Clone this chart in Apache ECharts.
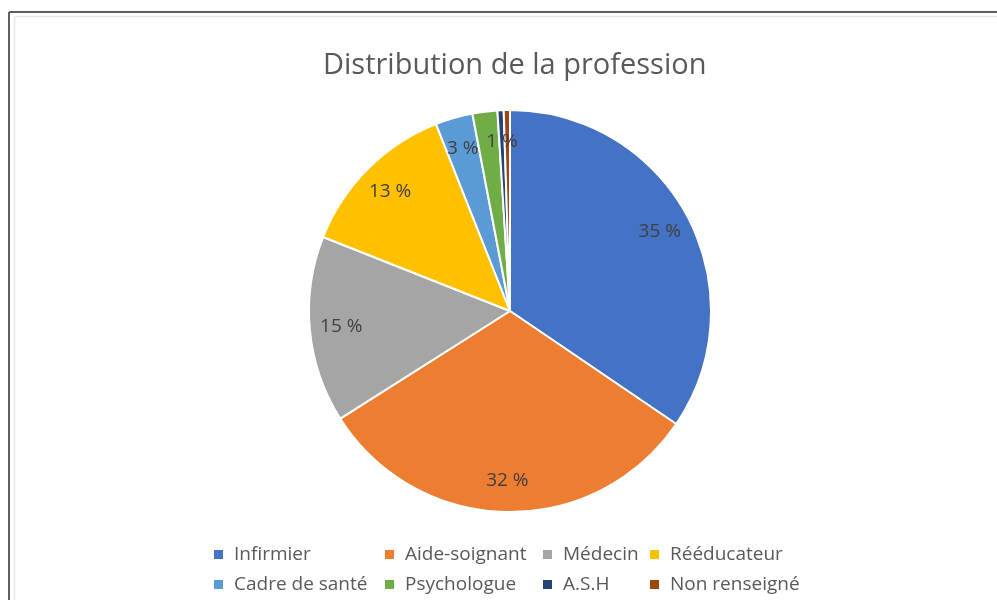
<!DOCTYPE html>
<html>
<head>
<meta charset="utf-8">
<script src="https://cdn.jsdelivr.net/npm/echarts@6/dist/echarts.min.js"></script>
<style>
html,body{margin:0;padding:0;background:#fff;}
#chart{width:997px;height:600px;}
</style>
</head>
<body>
<div id="chart"></div>
<script>
const titleText = 'Distribution de la profession';
const categories = ['Infirmier','Aide-soignant','Médecin','Rééducateur','Cadre de santé','Psychologue','A.S.H','Non renseigné'];
const values = [34.5, 31.5, 15, 13, 3, 2, 0.5, 0.5];
const colors = ['#4472C4','#ED7D31','#A5A5A5','#FFC000','#5B9BD5','#70AD47','#264478','#9E480E'];

const total = values.reduce((a, b) => a + b, 0);
const pieData = categories.map((c, i) => ({ name: c, value: values[i], itemStyle: { color: colors[i] } }));
const labelData = categories.map((c, i) => ({ name: c, value: values[i] }));

const FONT = '"Open Sans", sans-serif';
// legend placement (left x of icon, top y)
const legendPos = [
  [212, 545], [383, 545], [541, 545], [648, 545],
  [212, 575], [383, 575], [541, 575], [648, 575]
];

const chart = echarts.init(document.getElementById('chart'), null, { renderer: 'canvas' });
chart.setOption({
  animation: false,
  backgroundColor: '#fff',
  title: {
    text: titleText, left: 318, top: 46,
    textStyle: { fontFamily: FONT, fontSize: 29, fontWeight: 'normal', color: '#595959' }
  },
  legend: categories.map((c, i) => ({
    data: [c], left: legendPos[i][0], top: legendPos[i][1], padding: 0,
    icon: 'rect', itemWidth: 11, itemHeight: 11, itemGap: 0,
    textStyle: { fontFamily: FONT, fontSize: 19, color: '#595959', padding: [0, 0, 0, 5] }
  })),
  graphic: [
    { type: 'line', shape: { x1: 9, y1: 12, x2: 997, y2: 12 }, style: { stroke: '#5f5f5f', lineWidth: 2 }, silent: true },
    { type: 'line', shape: { x1: 9, y1: 12, x2: 9, y2: 600 }, style: { stroke: '#5f5f5f', lineWidth: 2 }, silent: true },
    { type: 'line', shape: { x1: 14.5, y1: 16.5, x2: 997, y2: 16.5 }, style: { stroke: '#e8e8e8', lineWidth: 1.5 }, silent: true },
    { type: 'line', shape: { x1: 14.5, y1: 16.5, x2: 14.5, y2: 600 }, style: { stroke: '#e8e8e8', lineWidth: 1.5 }, silent: true }
  ],
  series: [
    {
      type: 'pie', center: [510, 311], radius: 201, startAngle: 90, clockwise: true,
      data: pieData, label: { show: false }, labelLine: { show: false },
      itemStyle: { borderColor: '#fff', borderWidth: 2 },
      emphasis: { disabled: true }
    },
    {
      type: 'pie', center: [510, 311], radius: [132, 201], startAngle: 90, clockwise: true,
      data: labelData, silent: true, avoidLabelOverlap: false,
      itemStyle: { color: 'rgba(0,0,0,0)', borderWidth: 0 },
      emphasis: { disabled: true },
      labelLine: { show: false },
      label: {
        show: true, position: 'inside',
        fontFamily: FONT, fontSize: 19, color: '#404040',
        formatter: p => Math.round(p.value * 100 / total) + ' %'
      }
    }
  ]
});
</script>
</body>
</html>
